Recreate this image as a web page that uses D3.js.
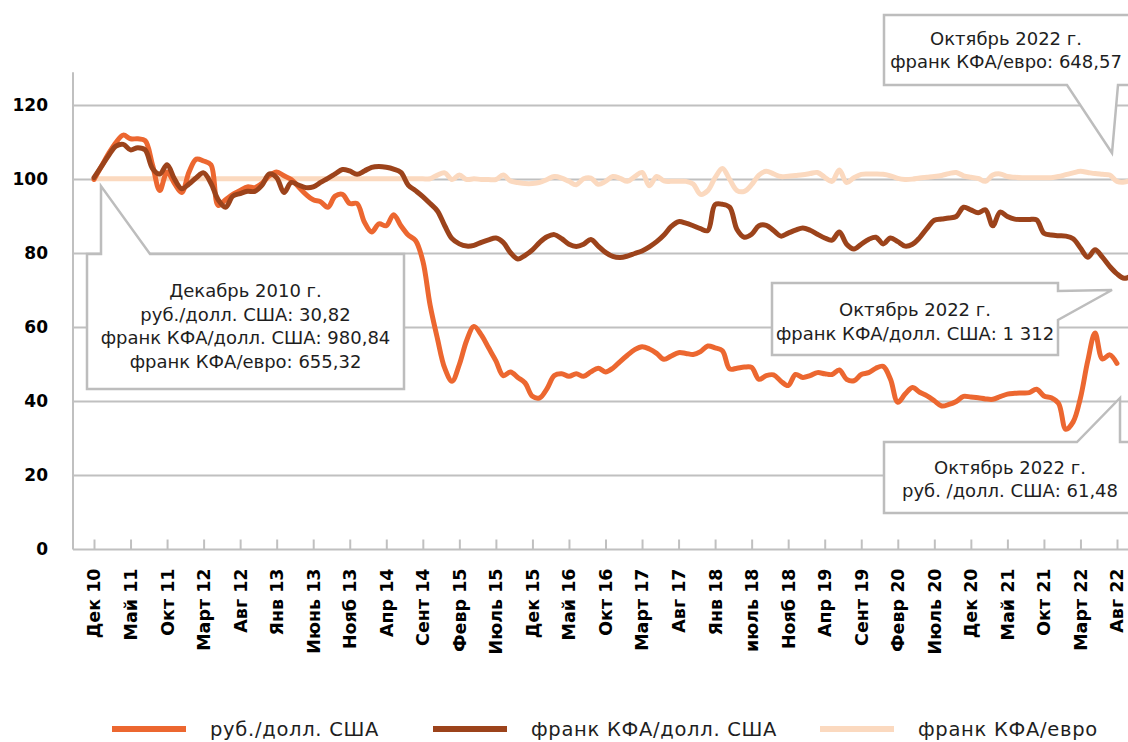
<!DOCTYPE html>
<html>
<head>
<meta charset="utf-8">
<script src="https://cdn.jsdelivr.net/npm/d3@7"></script>
<style>
  html, body { margin: 0; padding: 0; background: #fff; }
  svg { display: block; }
  text { font-family: "DejaVu Sans", sans-serif; }
</style>
</head>
<body>
<div id="chart"></div>
<script>
// x-axis labels, every 5 months from Dec 2010
const tickLabels = ["Дек 10", "Май 11", "Окт 11", "Март 12", "Авг 12", "Янв 13", "Июнь 13", "Нояб 13",
  "Апр 14", "Сент 14", "Февр 15", "Июль 15", "Дек 15", "Май 16", "Окт 16", "Март 17", "Авг 17",
  "Янв 18", "июль 18", "Нояб 18", "Апр 19", "Сент 19", "Февр 20", "Июль 20", "Дек 20", "Май 21",
  "Окт 21", "Март 22", "Авг 22"];

const yTicks = [0, 20, 40, 60, 80, 100, 120];

// monthly index, Dec 2010 = 100
const rubUsd = [
  100, 103.5, 107, 110, 112, 111, 111, 110.5, 104, 97,
  102, 99, 96.5, 102, 105.5, 105, 104, 93, 94.5, 96,
  97, 98, 97.8, 99, 101, 102, 101, 100, 98, 96,
  94.5, 94, 92.5, 95.5, 96, 93.5, 93.5, 88.5, 85.8, 88,
  87.5, 90.5, 87.5, 85, 83.5, 78, 66, 57, 49, 45.5,
  50, 56.5, 60.3, 58, 54.5, 51, 47, 48, 46.5, 45,
  41.4, 41, 43.5, 47, 47.5, 46.8, 47.5, 46.8, 48, 49,
  48, 49, 50.8, 52.5, 54, 54.8, 54.2, 53, 51.4, 52.3,
  53.2, 53, 52.7, 53.5, 55, 54.5, 53.7, 48.8, 49, 49.3,
  49.2, 46, 47, 47.2, 45.5, 44.3, 47.3, 46.5, 47, 47.8,
  47.5, 47.3, 48.5, 46, 45.6, 47.3, 47.8, 49, 49.5, 46,
  39.8, 42, 43.8, 42.5, 41.5, 40.2, 38.8, 39.2, 40, 41.4,
  41.2, 41, 40.7, 40.6, 41.3, 42, 42.2, 42.3, 42.4, 43.3,
  41.5, 41, 39.5, 32.5, 34.5, 41, 51, 58.5, 51.5, 52.6,
  50.3
];

const cfaUsd = [
  100.5, 103.5, 106.5, 109, 109.5, 108, 108.6, 108, 103, 101.5,
  104, 100.2, 97.5, 98.8, 100.5, 101.8, 99, 94.5, 92.5, 95.5,
  96.2, 96.8, 96.8, 98.5, 101.5, 100.5, 96.5, 99.2, 98.5, 97.8,
  98, 99.2, 100.3, 101.5, 102.7, 102.3, 101.4, 102.3, 103.3, 103.5,
  103.3, 102.8, 101.9, 98.5, 97, 95.4, 93.5, 91.5, 87.5, 84,
  82.6, 82, 82.2, 83, 83.7, 84.2, 83, 80.2, 78.5, 79.5,
  81, 83, 84.5, 85.1, 84, 82.5, 81.9, 82.5, 83.8, 82,
  80.3, 79.2, 78.9, 79.3, 80, 80.7, 81.8, 83.2, 85, 87.3,
  88.6, 88.2, 87.5, 86.7, 86.2, 93.2, 93.3, 92.5, 86.5, 84.4,
  85.2, 87.5, 87.6, 86.2, 84.7, 85.5, 86.3, 86.9, 86.3, 85.2,
  84.2, 83.6, 85.8, 82.5, 81.2, 82.5, 83.8, 84.4, 82.6, 84.2,
  83.2, 82, 82.5, 84.3, 86.8, 89, 89.3, 89.6, 90, 92.5,
  91.8, 91, 91.8, 87.5, 91.2, 90, 89.3, 89.2, 89.2, 89.1,
  85.5, 85, 84.8, 84.7, 84, 81.5, 79, 81, 79, 76.5,
  74.5, 73.3, 74
];

const cfaEur = [
  100.2, 100.2, 100.2, 100.2, 100.2, 100.2, 100.2, 100.2, 100.2, 100.2,
  100.2, 100.2, 100.2, 100.2, 100.2, 100.2, 100.2, 100.2, 100.2, 100.2,
  100.2, 100.2, 100.2, 100.2, 100.2, 100.2, 100.2, 100.2, 100.2, 100.2,
  100.2, 100.2, 100.2, 100.2, 100.2, 100.2, 100.2, 100.2, 100.2, 100.2,
  100.2, 100.2, 100.2, 100.2, 100.2, 100.2, 100.2, 101.2, 101.8, 100,
  101.2, 100, 100.2, 100, 100, 100, 101.2, 99.6, 99.2, 98.9,
  98.9, 99.2, 100, 100.8, 100.4, 99.5, 98.6, 100.2, 100.4, 98.7,
  99.5, 100.8, 100.3, 99.5, 100.8, 101.9, 98.3, 100.8, 99.6, 99.5,
  99.5, 99.5, 98.8, 96, 97, 100.5, 103, 100, 97, 96.8,
  98.6, 101.2, 102.2, 101.5, 100.8, 100.9, 101.1, 101.3, 101.6, 101.9,
  100.6, 99.5, 102.6, 99.2, 100.5, 101.4, 101.5, 101.5, 101.4, 101,
  100.3, 100, 100.1, 100.4, 100.6, 100.8, 101.1, 101.6, 101.9, 101,
  100.6, 100.3, 99.5, 101.2, 101.5, 100.8, 100.6, 100.5, 100.5, 100.5,
  100.5, 100.5, 100.8, 101.3, 101.8, 102.2, 101.9, 101.6, 101.4, 101.2,
  99.5, 99.3, 100
];

const seriesNames = ["руб./долл. США", "франк КФА/долл. США", "франк КФА/евро"];
const seriesColors = ["#ec6730", "#9c431b", "#fbd9bf"];

const width = 1128;
const height = 742;

const svg = d3.select("#chart")
  .append("svg")
  .attr("width", width)
  .attr("height", height)
  .attr("viewBox", `0 0 ${width} ${height}`);

// scales: month index -> x, index value -> y
const x = d3.scaleLinear().domain([0, 140]).range([94, 1117]);
const y = d3.scaleLinear().domain([0, 120]).range([549.5, 105.5]);

const plotLeft = 73;
const plotRight = 1128;
const gridColor = "#c0c0c0";

// gridlines
svg.append("g")
  .selectAll("line")
  .data(yTicks.filter(d => d > 0))
  .join("line")
  .attr("x1", plotLeft)
  .attr("x2", plotRight)
  .attr("y1", d => y(d))
  .attr("y2", d => y(d))
  .attr("stroke", gridColor)
  .attr("stroke-width", 2);

// y axis line and labels
svg.append("line")
  .attr("x1", plotLeft).attr("x2", plotLeft)
  .attr("y1", y(0)).attr("y2", y(129))
  .attr("stroke", gridColor)
  .attr("stroke-width", 2);

const yAxis = svg.append("g")
  .attr("transform", "translate(48,0)")
  .call(d3.axisLeft(y).tickValues(yTicks).tickSize(0).tickPadding(0));
yAxis.select(".domain").remove();
yAxis.selectAll("text")
  .attr("font-family", "DejaVu Sans, sans-serif")
  .attr("font-size", 17)
  .attr("font-weight", "bold")
  .attr("fill", "#000");

// x axis: ticks point up, labels rotated
const xAxis = svg.append("g")
  .attr("transform", `translate(0,${y(0)})`)
  .call(d3.axisBottom(x)
    .tickValues(d3.range(0, 141, 5))
    .tickFormat((d, i) => tickLabels[i])
    .tickSize(-10)
    .tickSizeOuter(0));
xAxis.select(".domain").remove();
xAxis.selectAll(".tick line")
  .attr("stroke", gridColor)
  .attr("stroke-width", 2);
xAxis.selectAll("text")
  .attr("font-family", "DejaVu Sans, sans-serif")
  .attr("font-size", 17.5)
  .attr("font-weight", "bold")
  .attr("fill", "#000")
  .attr("transform", "rotate(-90)")
  .attr("text-anchor", "end")
  .attr("x", -19)
  .attr("y", 0)
  .attr("dy", "0.34em");

svg.append("line")
  .attr("x1", plotLeft).attr("x2", plotRight)
  .attr("y1", y(0)).attr("y2", y(0))
  .attr("stroke", gridColor)
  .attr("stroke-width", 2);

// callout boxes
const callouts = [
  {
    pts: [[101, 186], [101, 254], [87, 254], [87, 389], [404, 389], [404, 254], [150, 254]],
    cx: 245.5, ys: [291, 314.5, 338, 361.5],
    lines: ["Декабрь 2010 г.", "руб./долл. США: 30,82", "франк КФА/долл. США: 980,84", "франк КФА/евро: 655,32"]
  },
  {
    pts: [[884, 15], [1140, 15], [1140, 85], [1118, 85], [1112, 153], [1067, 85], [884, 85]],
    cx: 1006, ys: [38.5, 62],
    lines: ["Октябрь 2022 г.", "франк КФА/евро: 648,57"]
  },
  {
    pts: [[772, 283], [1058, 283], [1058, 291], [1112, 290], [1058, 320], [1058, 355], [772, 355]],
    cx: 915, ys: [310, 333.5],
    lines: ["Октябрь 2022 г.", "франк КФА/долл. США: 1 312"]
  },
  {
    pts: [[884, 442], [1077, 442], [1120, 398], [1120, 442], [1140, 442], [1140, 513], [884, 513]],
    cx: 1010, ys: [468, 491],
    lines: ["Октябрь 2022 г.", "руб. /долл. США: 61,48"]
  }
];

const boxes = svg.append("g");
callouts.forEach(c => {
  boxes.append("path")
    .attr("d", d3.line()(c.pts) + "Z")
    .attr("fill", "#fff")
    .attr("stroke", "#bdbdbd")
    .attr("stroke-width", 2.5)
    .attr("stroke-linejoin", "miter");
  c.lines.forEach((t, i) => {
    boxes.append("text")
      .attr("x", c.cx)
      .attr("y", c.ys[i])
      .attr("dy", "0.35em")
      .attr("text-anchor", "middle")
      .attr("font-size", 18)
      .attr("fill", "#1e1e1e")
      .text(t);
  });
});

// lines: light first, brown on top
const line = d3.line()
  .x((d, i) => x(i))
  .y(d => y(d))
  .curve(d3.curveCatmullRom.alpha(0.5));

const series = [rubUsd, cfaUsd, cfaEur];
[2, 0, 1].forEach(k => {
  svg.append("path")
    .datum(series[k])
    .attr("d", line)
    .attr("fill", "none")
    .attr("stroke", seriesColors[k])
    .attr("stroke-width", 5)
    .attr("stroke-linejoin", "round")
    .attr("stroke-linecap", "round");
});

// legend
const legendX = [112, 433, 820];
const legend = svg.append("g");
seriesNames.forEach((name, k) => {
  legend.append("line")
    .attr("x1", legendX[k]).attr("x2", legendX[k] + 74)
    .attr("y1", 729).attr("y2", 729)
    .attr("stroke", seriesColors[k])
    .attr("stroke-width", 6);
  legend.append("text")
    .attr("x", legendX[k] + 98)
    .attr("y", 729)
    .attr("dy", "0.35em")
    .attr("font-size", 19.5)
    .attr("letter-spacing", 0.7)
    .attr("fill", "#1e1e1e")
    .text(name);
});
</script>
</body>
</html>
